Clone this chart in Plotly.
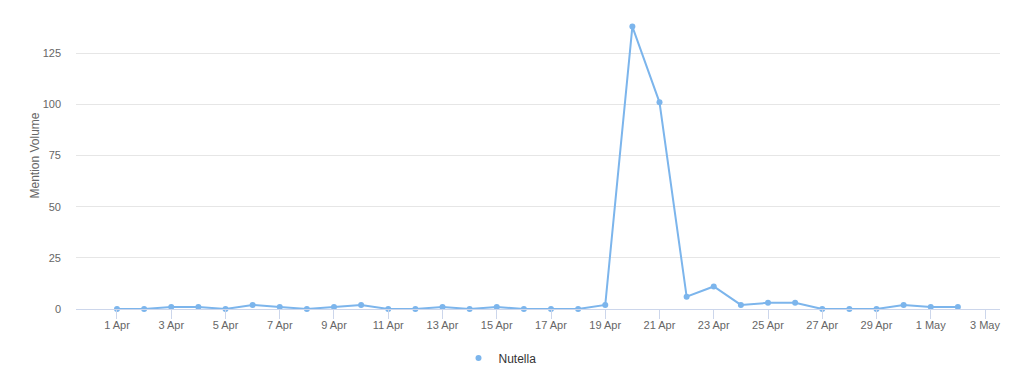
import plotly.graph_objects as go
import pandas as pd

dates = pd.date_range("2016-04-01", "2016-05-02", freq="D")
values = [0, 0, 1, 1, 0, 2, 1, 0, 1, 2,
          0, 0, 1, 0, 1, 0, 0, 0, 2, 138,
          101, 6, 11, 2, 3, 3, 0, 0, 0, 2,
          1, 1]
series_name = "Nutella"
y_ticks = [0, 25, 50, 75, 100, 125]
x_ticks = pd.date_range("2016-04-01", "2016-05-03", freq="2D")

color = "#7cb5ec"
font_family = "Liberation Sans, Arial, sans-serif"

fig = go.Figure()
fig.add_trace(go.Scatter(
    x=dates, y=values, mode="lines+markers", name=series_name,
    line=dict(color=color, width=2),
    marker=dict(color=color, size=6),
    cliponaxis=False, showlegend=False,
))
fig.add_trace(go.Scatter(
    x=[None], y=[None], mode="markers", name=series_name,
    marker=dict(color=color, size=6), showlegend=True,
))

fig.update_layout(
    width=1024, height=370,
    margin=dict(l=76, r=24, t=2, b=61),
    paper_bgcolor="white", plot_bgcolor="white",
    font=dict(family=font_family, color="#666666", size=11),
    showlegend=True,
    legend=dict(orientation="h", xanchor="center", yanchor="middle",
                xref="container", yref="container",
                x=500 / 1024, y=(370 - 358) / 370,
                font=dict(size=12, color="#333333"),
                itemwidth=30),
    xaxis=dict(
        type="date",
        range=["2016-03-30 11:44", "2016-05-03 13:16"],
        tickvals=x_ticks, tickformat="%-d %b",
        showgrid=False, showline=True, linecolor="#ccd6eb", linewidth=1,
        ticks="outside", ticklen=9, tickcolor="#ccd6eb", tickwidth=1,
        ticklabelstandoff=-3,
        zeroline=False, fixedrange=True,
    ),
    yaxis=dict(
        range=[0, 150], tickvals=y_ticks,
        showgrid=True, gridcolor="#e6e6e6", gridwidth=1,
        zeroline=False, showline=False,
        ticklabelstandoff=14,
        title=dict(text="Mention Volume", font=dict(size=12, color="#666666"), standoff=0),
    ),
)

fig.write_html("out.html")
